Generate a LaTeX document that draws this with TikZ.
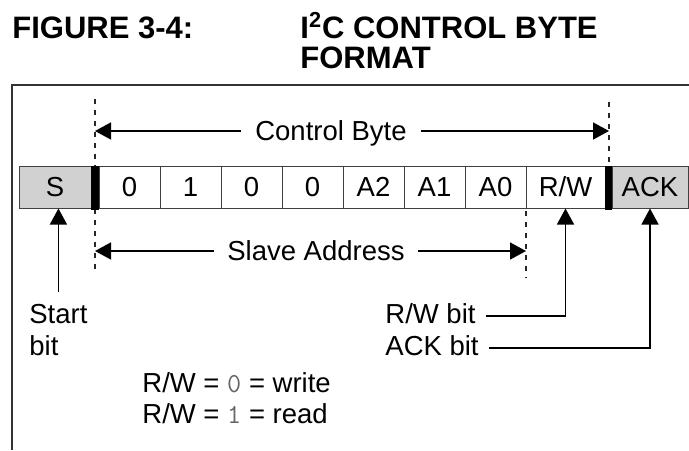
\documentclass[tikz,border=0pt]{standalone}
\usepackage{fontspec}
\setmainfont{Liberation Sans}
\usetikzlibrary{arrows.meta}
\begin{document}
\begin{tikzpicture}[x=.5pt,y=-.5pt,every node/.style={inner sep=0pt,font=\fontsize{13.75}{16}\selectfont},
  ttl/.style={font=\bfseries\fontsize{15.5}{18}\selectfont,anchor=base west},
  cell/.style={draw=black!75,line width=.5pt,fill=white,minimum height=21pt,text height=9.8pt,text depth=0pt},
  bar/.style={fill=black,minimum width=4pt,minimum height=22pt},
  lbl/.style={anchor=base west,text height=9.8pt,text depth=3pt},
  arr/.style={line width=.75pt,-{Triangle[length=8pt,width=8.5pt]}},
  dsh/.style={line width=.6pt,black!85,dash pattern=on 2.5pt off 3pt}]
\useasboundingbox (0,0) rectangle (689,450);
\node[ttl] (fig) at (12,38) {FIGURE 3-4:};
\node[ttl] (cap1) at (300,38) {I\textsuperscript{2}C CONTROL BYTE};
\node[ttl] (cap2) at (300,68) {FORMAT};
\draw[line width=.9pt,black!80] (12,450) -- (12,85) -- (689,85);
% guides
\draw[dsh] (95,99) -- (95,270);\draw[dsh] (609,102) -- (609,170);\draw[dsh] (526,200) -- (526,278);
% the byte
\node[cell,fill=black!18,minimum width=36pt] (s) at (55,187) {S};
\foreach \i/\t in {0/0,1/1,2/0,3/0,4/A2,5/A1,6/A0}{\node[cell,minimum width=30.5pt] (d\i) at (129.5+61*\i,187) {\t};}
\node[cell,minimum width=39.5pt] (rw) at (565.5,187) {R/W};
\node[cell,fill=black!18,minimum width=38pt] (ack) at (650,187) {ACK};
\node[bar] (b1) at (95,188) {};\node[bar,minimum width=3.5pt] (b2) at (608.5,188) {};
% spans
\coordinate (cbl) at (95,131);\coordinate (cbr) at (609,131);
\node[cell,draw=none,inner xsep=7pt] (cb) at (331,131) {Control Byte};
\draw[arr] (cb.west) -- (cbl);\draw[arr] (cb.east) -- (cbr);
\coordinate (sal) at (95,251);\coordinate (sar) at (526,251);
\node[cell,draw=none,inner xsep=6.5pt] (sa) at (316,251) {Slave Address};
\draw[arr] (sa.west) -- (sal);\draw[arr] (sa.east) -- (sar);
% bit labels
\node[lbl,inner ysep=5.7pt] (start) at (29,323) {Start};\node[lbl] (sbit) at (29,355) {bit};
\draw[arr] (start.north) -- (start.north |- s.south);
\node[lbl,inner xsep=5pt] (rwb) at (375,323) {R/W bit};\node[lbl,inner xsep=5pt] (ackb) at (375,355) {ACK bit};
\draw[arr] (rwb.east) -| (rw.south);\draw[arr] (ackb.east) -| (ack.south);
\node[lbl] (wr) at (142,392) {R/W = {\ttfamily\color{black!60}0} = write};
\node[lbl] (rd) at (142,423) {R/W = {\ttfamily\color{black!60}1} = read};
\end{tikzpicture}
\end{document}
